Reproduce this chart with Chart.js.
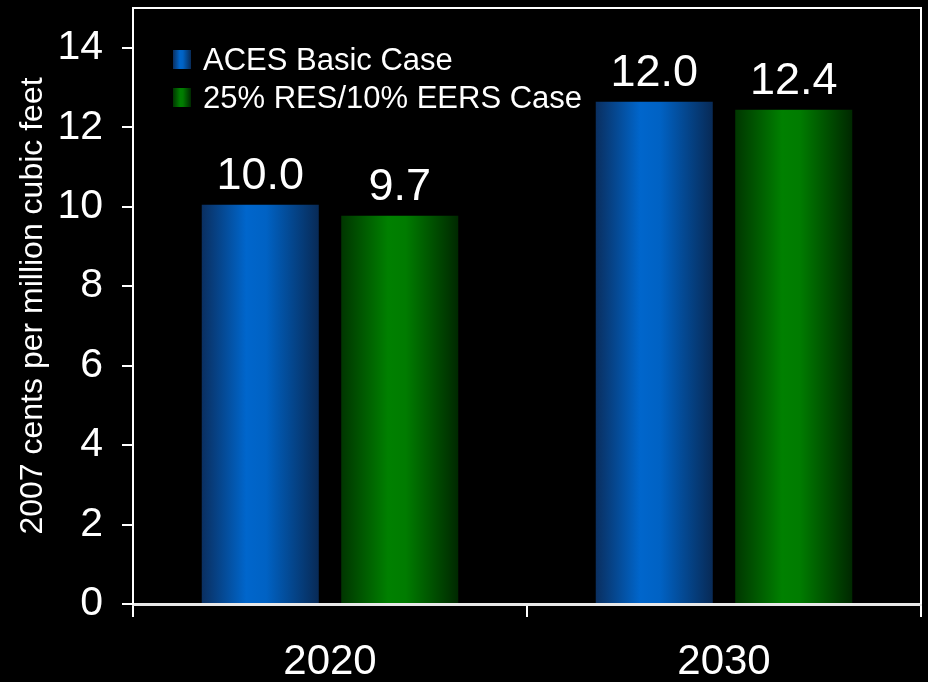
<!DOCTYPE html>
<html lang="en">
<head>
<meta charset="UTF-8">
<title>Natural Gas Price</title>
<script src="https://cdn.jsdelivr.net/npm/chart.js"></script>
<style>
  body { margin: 0; background: #000; }
  #wrap { width: 928px; height: 682px; }
</style>
</head>
<body>
<div id="wrap"><canvas id="chart" width="928" height="682"></canvas></div>
<script>
// data
const years = ['2020', '2030'];
const seriesNames = ['ACES Basic Case', '25% RES/10% EERS Case'];
const acesValues = [10.05, 12.64];
const resValues = [9.77, 12.44];
const acesLabels = ['10.0', '12.0'];
const resLabels = ['9.7', '12.4'];
const yTicks = [0, 2, 4, 6, 8, 10, 12, 14];
const yMax = 15;
const yTitle = '2007 cents per million cubic feet';

const FONT = "'Liberation Sans', Arial, sans-serif";
const CAT_PCT = 0.708;
const BAR_PCT = 0.839;

// dark edges, bright stripe a bit left of centre
const blueStops = [[0, '#0a2f60'], [0.38, '#0066cc'], [0.55, '#0062c4'], [1, '#082a56']];
const greenStops = [[0, '#003600'], [0.4, '#008000'], [0.55, '#007c00'], [1, '#002800']];

function makeGradient(ctx, x0, x1, stops) {
  const g = ctx.createLinearGradient(x0, 0, x1, 0);
  stops.forEach(s => g.addColorStop(s[0], s[1]));
  return g;
}

function barFill(stops) {
  return function(c) {
    const chart = c.chart;
    const xs = chart.scales.x;
    if (!xs || c.dataIndex === undefined) return stops[1][1];
    const catW = xs.width / years.length;
    const slot = catW * CAT_PCT / 2;
    const center = xs.getPixelForValue(c.dataIndex) + (c.datasetIndex - 0.5) * slot;
    const w = slot * BAR_PCT;
    if (!isFinite(center) || !isFinite(w) || w <= 0) return stops[1][1];
    return makeGradient(chart.ctx, center - w / 2, center + w / 2, stops);
  };
}

const framePlugin = {
  id: 'frame',
  afterDraw(chart) {
    const { ctx, chartArea: a } = chart;
    ctx.save();
    ctx.strokeStyle = '#ffffff';
    ctx.lineWidth = 2;
    ctx.beginPath();
    ctx.moveTo(a.left, a.top);
    ctx.lineTo(a.right, a.top);
    ctx.lineTo(a.right, a.bottom);
    ctx.stroke();
    ctx.restore();
  }
};

const legendPlugin = {
  id: 'boxLegend',
  afterDraw(chart) {
    const { ctx, chartArea: a } = chart;
    const stops = [blueStops, greenStops];
    ctx.save();
    ctx.font = '31px ' + FONT;
    ctx.textBaseline = 'middle';
    seriesNames.forEach((name, i) => {
      const y = a.top + 52 + i * 38;
      const x = a.left + 40;
      ctx.fillStyle = makeGradient(ctx, x, x + 18, stops[i]);
      ctx.fillRect(x, y - 10, 18, 19);
      ctx.fillStyle = '#ffffff';
      ctx.fillText(name, x + 30, y + 1);
    });
    ctx.restore();
  }
};

const valueLabelPlugin = {
  id: 'valueLabels',
  afterDatasetsDraw(chart) {
    const { ctx } = chart;
    const texts = [acesLabels, resLabels];
    ctx.save();
    ctx.font = '45px ' + FONT;
    ctx.fillStyle = '#ffffff';
    ctx.textAlign = 'center';
    ctx.textBaseline = 'alphabetic';
    chart.data.datasets.forEach((ds, di) => {
      chart.getDatasetMeta(di).data.forEach((bar, i) => {
        ctx.fillText(texts[di][i], bar.x, bar.y - 16);
      });
    });
    ctx.restore();
  }
};

new Chart(document.getElementById('chart'), {
  type: 'bar',
  data: {
    labels: years,
    datasets: [
      { label: seriesNames[0], data: acesValues, backgroundColor: barFill(blueStops) },
      { label: seriesNames[1], data: resValues, backgroundColor: barFill(greenStops) }
    ]
  },
  options: {
    responsive: false,
    animation: false,
    categoryPercentage: CAT_PCT,
    barPercentage: BAR_PCT,
    layout: { padding: { top: 8, right: 7, left: 0, bottom: 0 } },
    plugins: {
      legend: { display: false },
      tooltip: { enabled: false }
    },
    scales: {
      x: {
        grid: { display: true, drawOnChartArea: false, drawTicks: true, tickLength: 13, color: '#ffffff', lineWidth: 2 },
        border: { display: true, color: '#e8e8e8', width: 3 },
        ticks: { color: '#ffffff', font: { family: FONT, size: 42 }, padding: 20 },
        afterFit(scale) {
          scale.height = 78;
          scale.paddingLeft = 0;
          scale.paddingRight = 0;
        }
      },
      y: {
        min: 0,
        max: yMax,
        afterBuildTicks(scale) { scale.ticks = yTicks.map(v => ({ value: v })); },
        grid: { display: true, drawOnChartArea: false, drawTicks: true, tickLength: 11, color: '#ffffff', lineWidth: 2 },
        border: { display: true, color: '#ffffff', width: 2 },
        ticks: { color: '#ffffff', font: { family: FONT, size: 41 }, padding: 19 },
        title: {
          display: true,
          text: yTitle,
          color: '#ffffff',
          font: { family: FONT, size: 32 },
          padding: { top: 14, bottom: 0 }
        },
        afterFit(scale) {
          scale.width = 133;
          scale.paddingTop = 0;
          scale.paddingBottom = 0;
        }
      }
    }
  },
  plugins: [framePlugin, legendPlugin, valueLabelPlugin]
});
</script>
</body>
</html>
